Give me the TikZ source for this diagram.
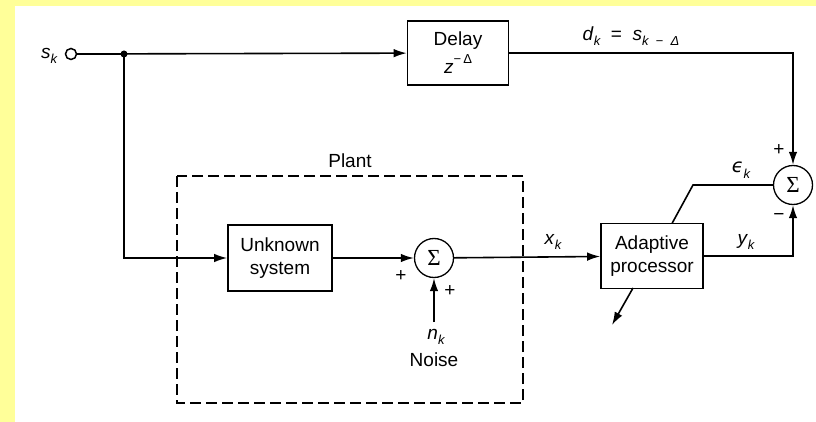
\documentclass[tikz,border=0pt]{standalone}
\usepackage{fontspec}
\setmainfont{Liberation Sans}
\newfontfamily\djv{DejaVu Sans}
\newfontfamily\sigfont{Liberation Serif}
\usetikzlibrary{arrows.meta}
\definecolor{bgyellow}{HTML}{FFFF99}
\newcommand{\subk}[1]{\raisebox{-0.55ex}{\fontsize{13}{13}\selectfont\itshape #1}}
\newcommand{\supk}[1]{\raisebox{1.0ex}{\fontsize{13}{13}\selectfont #1}}
\begin{document}
\begin{tikzpicture}[x=1pt,y=-1pt,
  every node/.style={font=\fontsize{19}{25}\selectfont},
  line/.style={line width=1.6pt},
  arr/.style={line width=1.6pt,-{Latex[length=13pt,width=8.5pt]}},
  blk/.style={draw,line width=1.6pt,align=center,inner sep=0pt},
  sumn/.style={draw,circle,line width=1.3pt,minimum size=39pt,inner sep=0pt,font=\fontsize{23}{23}\sigfont},
  lbl/.style={inner sep=0pt}]
\useasboundingbox (0,0) rectangle (816,422);
\fill[bgyellow] (0,0) rectangle (816,422);
\fill[white] (15,6) rectangle (816,422);

% nodes
\node[draw,circle,line width=1.5pt,minimum size=11pt,inner sep=0pt] (in) at (71,54) {};
\node[lbl] (sk) at (49,56) {\textit{s}\subk{k}};
\coordinate (j) at (124,54);
\fill (j) circle (3.5);
\node[blk,minimum width=101pt,minimum height=64pt] (delay) at (458,53) {Delay\\[3pt]\textit{z}\supk{−\,Δ}};
\node[blk,minimum width=104pt,minimum height=66pt] (unk) at (280,258) {Unknown\\[-2pt]system};
\node[sumn] (s1) at (434,258) {Σ};
\node[blk,minimum width=102pt,minimum height=65pt] (ap) at (652,256) {Adaptive\\[-2pt]processor};
\node[sumn] (s2) at (793,185) {Σ};

% plant box
\draw[dashed,line width=1.1pt,dash pattern=on 11pt off 5pt] (177,176) rectangle (523,403);
\node[lbl] (plant) at (350,161) {Plant};

% connectors
\draw[arr] (in) -- (delay);
\draw[line] (in.east) -- (j);
\draw[arr] (delay.east) -| (s2.north);
\draw[arr] (j) |- (unk.west);
\draw[arr] (unk) -- (s1);
\coordinate (nk) at (434,322);
\draw[arr] (nk) -- (s1.south);
\draw[arr] (s1) -- (ap);
\draw[arr] (ap.east) -| (s2.south);
\coordinate (ea) at (672,223.5);
\coordinate (eb) at (693,185);
\draw[line] (ea) -- (eb) -- (s2.west);
\coordinate (oa) at (633,288);
\coordinate (ob) at (612,325);
\draw[arr] (oa) -- (ob);

% labels
\node[lbl] (dk) at (631,36) {\textit{d}\subk{k}\ \ =\ \ \textit{s}\subk{k\ \ −\ \ Δ}};
\node[lbl] (nkl) at (436,337) {\textit{n}\subk{k}};
\node[lbl] (noise) at (434,360) {Noise};
\node[lbl] (p1) at (401,276) {+};
\node[lbl] (p2) at (450,291) {+};
\node[lbl] (xk) at (553,242) {\textit{x}\subk{k}};
\node[lbl] (yk) at (746,242) {\textit{y}\subk{k}};
\node[lbl] (ek) at (741,170) {{\djv\itshape ϵ}\subk{k}};
\node[lbl] (m2) at (779,217) {−};
\node[lbl] (p3) at (779,150) {+};
\end{tikzpicture}
\end{document}
